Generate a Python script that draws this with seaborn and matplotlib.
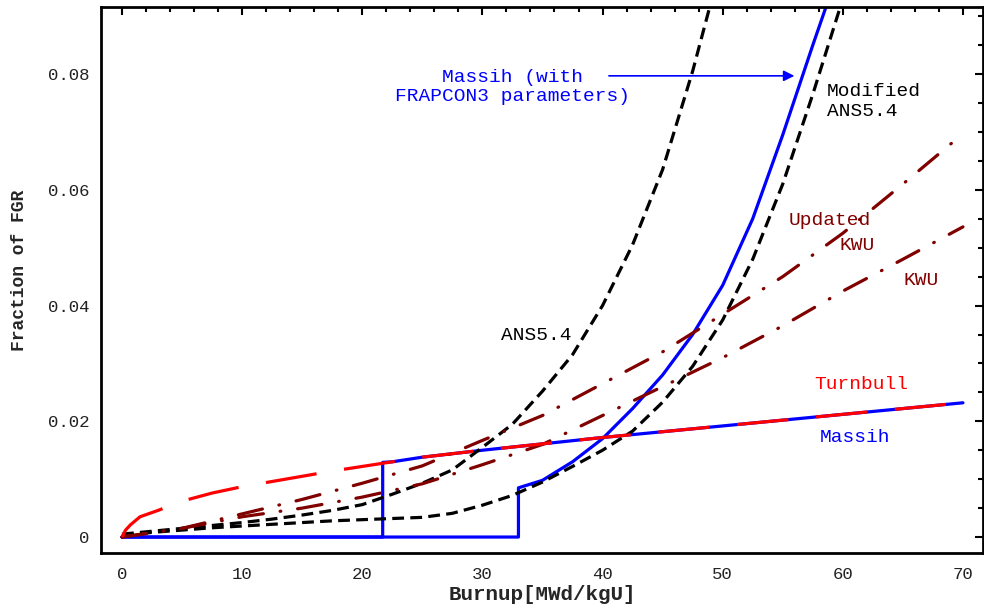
import pandas as pd
import seaborn as sns
import matplotlib.pyplot as plt
from matplotlib.ticker import MultipleLocator

# --- data (burnup in MWd/kgU, fraction of FGR) ---
massih_x = [0, 21.7, 21.7, 22.5, 25, 30, 35, 40, 45, 50, 55, 60, 65, 70]
massih_y = [0, 0, 0.0129, 0.0130, 0.0138, 0.0150, 0.0161, 0.0172, 0.0182,
            0.0192, 0.0202, 0.0212, 0.0222, 0.0232]

frapcon_x = [0, 33.0, 33.0, 35, 37.5, 40, 42.5, 45, 47.5, 50, 52.5, 55, 57.5, 60]
frapcon_y = [0, 0, 0.0085, 0.0098, 0.0130, 0.0170, 0.0222, 0.0280, 0.0350,
             0.0435, 0.0550, 0.0695, 0.0850, 0.1000]

ans_x = [0, 2.5, 5, 7.5, 10, 12.5, 15, 17.5, 20, 22.5, 25, 27.5, 30, 32.5,
         35, 37.5, 40, 42.5, 45, 47.5, 50]
ans_y = [0.0005, 0.0010, 0.0015, 0.0020, 0.0025, 0.0031, 0.0038, 0.0046,
         0.0056, 0.0074, 0.0093, 0.0116, 0.0155, 0.0195, 0.0252, 0.0315,
         0.0400, 0.0505, 0.0635, 0.0805, 0.1000]

mod_ans_x = [0, 2.5, 5, 7.5, 10, 12.5, 15, 17.5, 20, 22.5, 25, 27.5, 30, 32.5,
             35, 37.5, 40, 42.5, 45, 47.5, 50, 52.5, 55, 57.5, 60, 62.5]
mod_ans_y = [0.0003, 0.0008, 0.0012, 0.0016, 0.0019, 0.0022, 0.0025, 0.0028,
             0.0030, 0.0032, 0.0034, 0.0041, 0.0055, 0.0072, 0.0095, 0.0122,
             0.0150, 0.0183, 0.0233, 0.0295, 0.0375, 0.0480, 0.0610, 0.0765,
             0.0930, 0.1100]

kwu_x = [0, 5, 10, 15, 20, 25, 30, 35, 40, 45, 50, 55, 60, 65, 70]
kwu_y = [0, 0.0015, 0.0035, 0.0050, 0.0069, 0.0092, 0.0125, 0.0160, 0.0210,
         0.0260, 0.0310, 0.0365, 0.0425, 0.0480, 0.0536]

upd_kwu_x = [0, 5, 10, 15, 20, 25, 30, 35, 40, 45, 50, 55, 60, 65, 70]
upd_kwu_y = [0, 0.0015, 0.0040, 0.0065, 0.0093, 0.0123, 0.0167, 0.0210,
             0.0265, 0.0320, 0.0385, 0.0450, 0.0525, 0.0610, 0.0697]

turnbull_x = [0, 0.3, 0.7, 1.5, 3, 5, 7.5, 10, 12.5, 15, 17.5, 20, 22.5, 25,
              30, 35, 40, 45, 50, 55, 60, 65, 70]
turnbull_y = [0, 0.0012, 0.0021, 0.0035, 0.0046, 0.0062, 0.0076, 0.0087,
              0.0096, 0.0105, 0.0114, 0.0122, 0.0130, 0.0138, 0.0150, 0.0161,
              0.0172, 0.0182, 0.0192, 0.0202, 0.0212, 0.0222, 0.0232]

xticks = [0, 10, 20, 30, 40, 50, 60, 70]
yticks = [0, 0.02, 0.04, 0.06, 0.08]
ytick_labels = ['0', '0.02', '0.04', '0.06', '0.08']

maroon = '#800000'
mono = 'Liberation Mono'

sns.set_theme(style='white')
plt.rcParams['lines.scale_dashes'] = False
plt.rcParams['font.family'] = [mono, 'DejaVu Sans Mono']

fig = plt.figure(figsize=(9.84, 6.12), dpi=100)
ax = fig.add_axes([0.1026, 0.0964, 0.8964, 0.8922])

series = [
    (massih_x, massih_y, dict(color='blue', linestyle='-')),
    (frapcon_x, frapcon_y, dict(color='blue', linestyle='-')),
    (ans_x, ans_y, dict(color='black', linestyle=(0, (8.5, 4.5)))),
    (mod_ans_x, mod_ans_y, dict(color='black', linestyle=(0, (8.5, 4.5)))),
    (kwu_x, kwu_y, dict(color=maroon, linestyle=(0, (17.8, 12.2, 0.5, 12.2)),
                        dash_capstyle='round')),
    (upd_kwu_x, upd_kwu_y, dict(color=maroon, linestyle=(0, (17.8, 12.2, 0.5, 12.2)),
                                dash_capstyle='round')),
    (turnbull_x, turnbull_y, dict(color='red', linestyle=(0, (37, 20)))),
]
for xs, ys, kw in series:
    df = pd.DataFrame({'burnup': xs, 'fgr': ys})
    sns.lineplot(data=df, x='burnup', y='fgr', ax=ax, estimator=None,
                 sort=False, lw=2.3, **kw)

ax.set_xlim(-1.75, 71.67)
ax.set_ylim(-0.00276, 0.0916)
ax.set_xticks(xticks)
ax.set_yticks(yticks)
ax.set_yticklabels(ytick_labels)
ax.xaxis.set_minor_locator(MultipleLocator(2))
ax.yaxis.set_minor_locator(MultipleLocator(0.005))
ax.tick_params(which='both', direction='in', top=True, right=True,
               colors='black', labelcolor='#222222', labelsize=12.5)
ax.tick_params(which='major', length=6, width=1.5)
ax.tick_params(which='minor', length=3.5, width=1.5)
ax.tick_params(axis='x', pad=10)
ax.tick_params(axis='y', pad=8)
for sp in ax.spines.values():
    sp.set_linewidth(2)
    sp.set_color('black')

ax.set_xlabel('Burnup[MWd/kgU]', fontsize=15, fontweight='bold', family=mono)
ax.set_ylabel('Fraction of FGR', fontsize=13, fontweight='bold', family=mono)
ax.xaxis.set_label_coords(0.5, -0.058)
ax.yaxis.set_label_coords(-0.083, 0.518)

txt = dict(fontsize=14, family=mono)
ax.text(32.5, 0.0778, 'Massih (with\nFRAPCON3 parameters)', color='blue',
        ha='center', va='center', **txt)
ax.annotate('', xy=(56.2, 0.0797), xytext=(40.3, 0.0797),
            arrowprops=dict(arrowstyle='-|>', color='blue', lw=1.2,
                            mutation_scale=16))
ax.text(58.7, 0.0753, 'Modified\nANS5.4', color='black', ha='left',
        va='center', linespacing=1.25, **txt)
ax.text(58.9, 0.0547, 'Updated', color=maroon, ha='center', va='center', **txt)
ax.text(61.2, 0.0503, 'KWU', color=maroon, ha='center', va='center', **txt)
ax.text(66.5, 0.0443, 'KWU', color=maroon, ha='center', va='center', **txt)
ax.text(34.5, 0.0348, 'ANS5.4', color='black', ha='center', va='center', **txt)
ax.text(61.5, 0.0264, 'Turnbull', color='red', ha='center', va='center', **txt)
ax.text(61.0, 0.0172, 'Massih', color='blue', ha='center', va='center', **txt)

fig.savefig('out.png', dpi=100)
